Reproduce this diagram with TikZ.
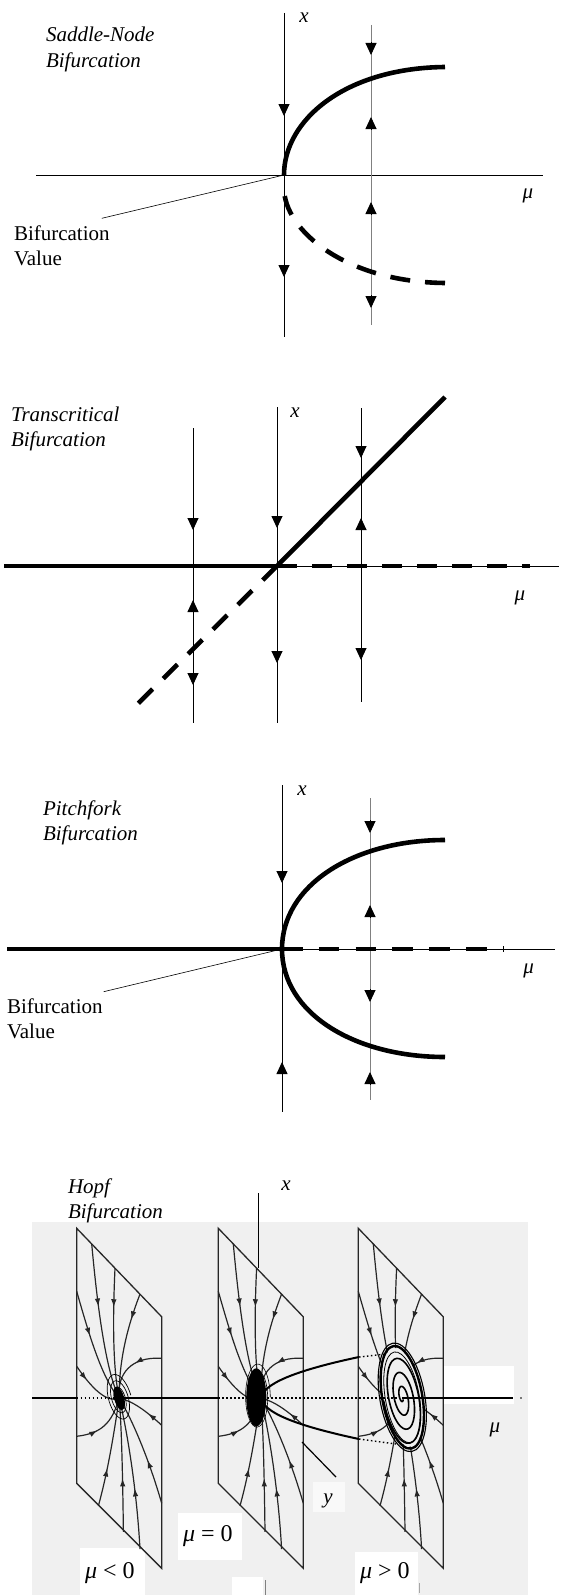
\documentclass[tikz,border=0pt]{standalone}
\usepackage{fontspec}
\setmainfont{Liberation Serif}
\usetikzlibrary{arrows.meta,decorations.markings}
\definecolor{scan}{gray}{0.94}
\tikzset{
  ax/.style={line width=0.9pt},
  gax/.style={line width=1pt, draw=black!50},
  bold/.style={line width=4.6pt},
  lbl/.style={font=\fontsize{21}{25}\selectfont, inner sep=0pt, outer sep=0pt},
  ilbl/.style={font=\fontsize{21}{25}\selectfont\itshape, inner sep=0pt, outer sep=0pt},
  mlbl/.style={font=\fontsize{24}{28}\selectfont, inner sep=0pt, outer sep=0pt},
  tip/.style={-{Triangle[length=12pt,width=11pt]}, line width=0.9pt},
  pgram/.style={line width=1.3pt, draw=black!85, line join=miter},
  traj/.style={line width=1.2pt, draw=black!85},
  tarr/.style={postaction={decorate}, decoration={markings, mark=at position #1 with {\arrow{Latex[length=8pt,width=5.5pt]}}}},
  hax/.style={line width=1.2pt},
  hdot/.style={line width=1.2pt, dash pattern=on 1.5pt off 2.5pt},
}
\newcommand\myDown[2]{\draw[tip] (#1,#2-13) -- (#1,#2);}
\newcommand\myUp[2]{\draw[tip] (#1,#2+13) -- (#1,#2);}
\newcommand\hopftrajs{%
  \draw[pgram] (0,0) -- (85,88.5) -- (85,340) -- (0,255) -- cycle;
  \draw[traj,tarr=0.4] (15,15.6) .. controls (20,70) and (28,140) .. (42.5,170);
  \draw[traj,tarr=0.3] (38.3,39.8) .. controls (36,90) and (36,140) .. (42.5,170);
  \draw[traj,tarr=0.25] (63.3,65.8) .. controls (52,95) and (42,130) .. (42.5,170);
  \draw[traj,tarr=0.4] (0,63) .. controls (12,105) and (25,150) .. (42.5,170);
  \draw[traj,tarr=0.4] (85,130) .. controls (55,128) and (40,145) .. (42.5,170);
  \draw[traj,tarr=0.3] (0,138) .. controls (15,160) and (30,175) .. (42.5,170);
  \draw[traj,tarr=0.35] (85,197) .. controls (70,183) and (55,172) .. (42.5,170);
  \draw[traj,tarr=0.35] (0,208) .. controls (25,205) and (35,195) .. (42.5,170);
  \draw[traj,tarr=0.35] (21.7,277.5) .. controls (32,240) and (38,200) .. (42.5,170);
  \draw[traj,tarr=0.4] (46.7,303.5) .. controls (46,250) and (45,200) .. (42.5,170);
  \draw[traj,tarr=0.4] (63.3,320.8) .. controls (60,260) and (50,200) .. (42.5,170);
  \draw[traj,tarr=0.4] (85,275) .. controls (72,230) and (55,190) .. (42.5,170);
}
\begin{document}
\begin{tikzpicture}[x=1pt,y=-1pt]
\useasboundingbox (0,0) rectangle (560,1595);
\fill[white] (0,0) rectangle (560,1595);

% ---------- Saddle-node ----------
\node[ilbl,anchor=base west] (sn1) at (46,42) {Saddle-Node};
\node[ilbl,anchor=base west] (sn2) at (46,67.5) {Bifurcation};
\node[ilbl,anchor=base] (snx) at (304,23) {x};
\node[ilbl,anchor=base] (snm) at (528,198) {μ};
\node[lbl,anchor=base west] (snb1) at (14,240) {Bifurcation};
\node[lbl,anchor=base west] (snb2) at (14,265) {Value};
\coordinate (o1) at (284,175);
\coordinate (e1) at (445,283);
\coordinate (p1) at (101.8,218.3);
\draw[ax] (36,175) -- (543,175);
\draw[ax] (284,13) -- (284,337);
\draw[gax] (371,25) -- (371,325);
\draw[line width=0.6pt] (p1) -- (o1);
\draw[bold] (o1) .. controls (284,120) and (345,68) .. (445,67);
\draw[bold,dash pattern=on 20pt off 15pt] (e1) .. controls (345,282) and (284,230) .. (284,188);
\myDown{284}{116} \myDown{284}{277}
\myDown{371}{55} \myUp{371}{117} \myUp{371}{202} \myDown{371}{308}

% ---------- Transcritical ----------
\node[ilbl,anchor=base west] (tc1) at (11,421.5) {Transcritical};
\node[ilbl,anchor=base west] (tc2) at (11,446.5) {Bifurcation};
\node[ilbl,anchor=base] (tcx) at (295,417) {x};
\node[ilbl,anchor=base] (tcm) at (520,600) {μ};
\coordinate (o2) at (277,566);
\draw[ax] (4,566) -- (559,566);
\draw[ax] (193,428) -- (193,723);
\draw[ax] (277,407) -- (277,723);
\draw[ax] (361,408) -- (361,702);
\draw[bold] (4,566) -- (o2);
\draw[bold,dash pattern=on 19.5pt off 15.5pt] (o2) -- (530,566);
\draw[bold] (o2) -- (445,397);
\draw[bold,dash pattern=on 20pt off 15pt] (o2) -- (137.5,704);
\myDown{193}{530} \myUp{193}{600} \myDown{193}{685}
\myDown{277}{528} \myDown{277}{663}
\myDown{361}{458} \myUp{361}{518} \myDown{361}{660}

% ---------- Pitchfork ----------
\node[ilbl,anchor=base west] (pf1) at (43,815) {Pitchfork};
\node[ilbl,anchor=base west] (pf2) at (43,840) {Bifurcation};
\node[ilbl,anchor=base] (pfx) at (302,795) {x};
\node[ilbl,anchor=base] (pfm) at (528.6,973) {μ};
\node[lbl,anchor=base west] (pfb1) at (7,1013.3) {Bifurcation};
\node[lbl,anchor=base west] (pfb2) at (7,1038) {Value};
\coordinate (o3) at (282,949);
\coordinate (p3) at (103.6,991.7);
\draw[ax] (7,949) -- (555,949);
\draw[ax] (503.6,946) -- (503.6,952);
\draw[ax] (282,785) -- (282,1112);
\draw[gax] (370,798) -- (370,1100);
\draw[line width=0.6pt] (p3) -- (o3);
\draw[bold] (7,949) -- (o3);
\draw[bold,dash pattern=on 20.5pt off 16.3pt] (o3) -- (487,949);
\draw[bold] (o3) .. controls (282,885) and (354,840) .. (445,840);
\draw[bold] (o3) .. controls (282,1013) and (354,1057) .. (445,1057);
\myDown{282}{883} \myUp{282}{1062}
\myDown{370}{833} \myUp{370}{905} \myDown{370}{1002} \myUp{370}{1072}

% ---------- Hopf ----------
\fill[scan] (32,1222) rectangle (528,1595);
\fill[white] (178,1513) rectangle (242,1560);
\fill[white] (232,1577) rectangle (263,1595);
\fill[white] (355,1552) rectangle (418,1595);
\fill[white] (80,1548) rectangle (145,1595);
\fill[white] (443,1366) rectangle (514,1404);
\fill[white!60!scan] (313,1482) rectangle (345,1512);
\draw[line width=0.6pt,black!50] (265,1580) -- (265,1595);
\draw[line width=0.5pt,black!35] (419,1583) -- (419,1593);

\node[ilbl,anchor=base west] (hb1) at (68,1193) {Hopf};
\node[ilbl,anchor=base west] (hb2) at (68,1218) {Bifurcation};
\node[ilbl,anchor=base] (hbx) at (286,1190) {x};
\node[ilbl,anchor=base] (hbm) at (495,1432) {μ};
\node[ilbl,anchor=base] (hby) at (328,1503) {y};
\node[mlbl,anchor=base west] (hl1) at (85,1578) {\textit{μ} < 0};
\node[mlbl,anchor=base west] (hl2) at (183,1541.7) {\textit{μ} = 0};
\node[mlbl,anchor=base west] (hl3) at (360,1578) {\textit{μ} > 0};

% panel mu<0
\begin{scope}[shift={(76.7,1228.3)}]
  \hopftrajs
  \draw[line width=0.7pt, rotate around={15:(42.5,170)}] plot[smooth, domain=0:1440, samples=160] ({42.5+12*(\x/1440)*cos(\x)},{170+26*(\x/1440)*sin(\x)});
  \fill[rotate around={15:(42.5,170)}] (42.5,170) ellipse (5 and 12);
\end{scope}
% panel mu=0
\begin{scope}[shift={(218.3,1228.3)}]
  \hopftrajs
  \draw[line width=0.6pt] plot[smooth, domain=0:1800, samples=200] ({39+13*(\x/1800)*cos(\x)},{169+35*(\x/1800)*sin(\x)});
  \fill (38,169) ellipse (10 and 29);
\end{scope}
% panel mu>0
\begin{scope}[shift={(358.3,1228.3)}]
  \hopftrajs
  \fill[scan, rotate around={10:(44,169)}] (44,169) ellipse (19 and 50);
  \draw[line width=1.6pt, rotate around={10:(44,169)}] plot[smooth, domain=60:1260, samples=110] ({44+19*(\x/1260)*cos(\x)},{169+50*(\x/1260)*sin(\x)});
  \draw[line width=2.4pt, rotate around={10:(44,169)}] (44,169) ellipse (20 and 52);
  \draw[line width=1.1pt, rotate around={10:(44,169)}] (44,169) ellipse (22.5 and 55);
  \draw[line width=0.8pt, rotate around={10:(44,169)}] (44,169) ellipse (17 and 46);
\end{scope}

% mu axis
\draw[hax] (32,1398) -- (76.7,1398);
\draw[hdot] (76.7,1398) -- (119,1398);
\draw[hax,line width=1.6pt] (119,1398) -- (218.3,1398);
\draw[hdot] (218.3,1398) -- (258,1398);
\draw[hdot] (263,1398) -- (400,1398);
\draw[hax] (402,1398) -- (513,1398);
\fill (521,1398) circle (0.8);
% parabola (cycle amplitude)
\draw[line width=2pt] (359,1357) .. controls (294.3,1370.7) and (262,1384.3) .. (262,1398)
  .. controls (262,1411.7) and (294.3,1425.3) .. (359,1439);
\draw[hdot,line width=1.4pt] (359,1357) -- (386,1354);
\draw[hdot,line width=1.4pt] (359,1439) -- (396,1444);
% x and y axes
\draw[hax] (258.3,1193) -- (258.3,1268);
\draw[hax] (302,1442) -- (336,1477);
\end{tikzpicture}
\end{document}
